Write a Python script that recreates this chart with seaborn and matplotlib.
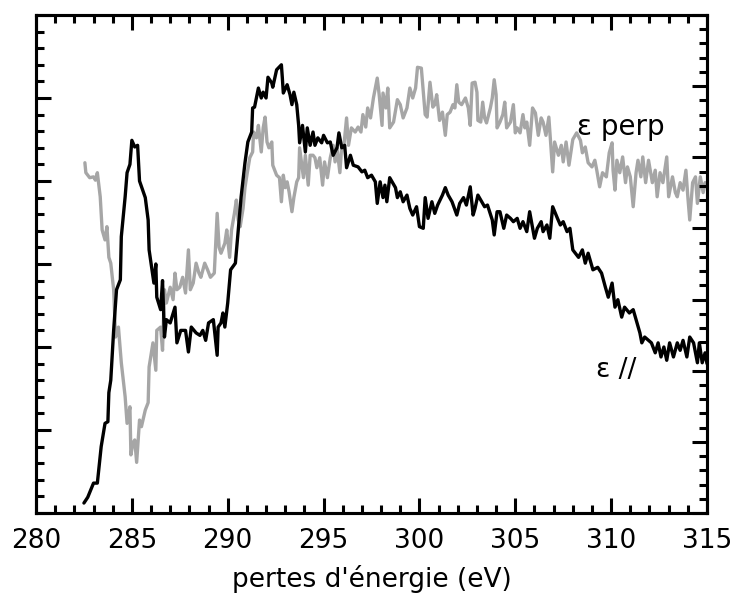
import numpy as np
import pandas as pd
import seaborn as sns
import matplotlib
matplotlib.use("Agg")
import matplotlib.pyplot as plt
from matplotlib.ticker import MultipleLocator, NullFormatter

# Energy loss spectra (arbitrary intensity units)
x_par = [282.5, 282.7, 283.0, 283.2, 283.4, 283.6, 283.75, 283.8, 283.9, 284.05,
         284.2, 284.4, 284.45, 284.65, 284.75, 284.9, 285.0, 285.15, 285.3, 285.4,
         285.7, 285.85, 285.9, 286.05, 286.15, 286.25, 286.3, 286.5, 286.6, 286.7,
         286.8, 287.0, 287.25, 287.35, 287.55, 287.8, 287.95, 288.1, 288.35, 288.55,
         288.7, 288.85, 289.0, 289.25, 289.35, 289.45, 289.5, 289.65, 289.75, 289.85,
         290.0, 290.15, 290.4, 290.55, 290.7, 290.9, 291.05, 291.25, 291.3, 291.4,
         291.6, 291.75, 291.85, 292.0, 292.1, 292.3, 292.35, 292.55, 292.8, 292.85,
         292.9, 293.1, 293.25, 293.35, 293.45, 293.6, 293.7, 293.75, 293.9, 294.05,
         294.15, 294.3, 294.45, 294.55, 294.7, 294.9, 295.0, 295.2, 295.35, 295.5,
         295.7, 295.8, 295.95, 296.1, 296.2, 296.4, 296.55, 296.8, 297.0, 297.15,
         297.3, 297.5, 297.7, 297.8, 297.95, 298.1, 298.2, 298.3, 298.45, 298.75,
         298.85, 299.0, 299.15, 299.35, 299.5, 299.65, 299.85, 300.0, 300.2, 300.3,
         300.45, 300.65, 300.8, 300.95, 301.2, 301.35, 301.5, 301.7, 301.95, 302.1,
         302.3, 302.45, 302.65, 302.8, 302.9, 303.05, 303.25, 303.4, 303.55, 303.8,
         303.9, 304.05, 304.2, 304.4, 304.55, 304.75, 304.9, 305.1, 305.25, 305.4,
         305.6, 305.75, 306.0, 306.15, 306.35, 306.45, 306.65, 306.8, 306.95, 307.2,
         307.35, 307.5, 307.7, 307.85, 308.0, 308.3, 308.5, 308.65, 308.8, 309.05,
         309.3, 309.5, 309.7, 309.85, 310.05, 310.2, 310.35, 310.55, 310.7, 310.95,
         311.15, 311.35, 311.5, 311.6, 311.75, 311.95, 312.1, 312.3, 312.45, 312.6,
         312.75, 312.9, 313.05, 313.25, 313.45, 313.6, 313.75, 313.95, 314.1, 314.3,
         314.5, 314.6, 314.75, 314.9, 315.0]
y_par = [0.12, 0.19, 0.36, 0.36, 0.80, 1.08, 1.10, 1.45, 1.60, 2.20,
         2.69, 2.81, 3.33, 3.81, 4.10, 4.20, 4.49, 4.41, 4.43, 4.00,
         3.80, 3.53, 3.17, 2.93, 2.77, 3.00, 2.60, 2.45, 2.80, 2.12,
         2.33, 2.29, 2.48, 2.05, 2.20, 2.20, 1.94, 2.24, 2.17, 2.14,
         2.20, 2.08, 2.29, 2.33, 2.12, 1.90, 2.24, 2.29, 2.41, 2.24,
         2.53, 2.93, 3.01, 3.41, 3.81, 4.22, 4.47, 4.59, 4.88, 4.89,
         5.12, 5.00, 5.07, 5.00, 5.25, 5.18, 5.13, 5.34, 5.40, 5.24,
         5.06, 5.16, 5.04, 4.92, 5.07, 4.92, 4.67, 4.46, 4.67, 4.35,
         4.64, 4.43, 4.59, 4.43, 4.52, 4.46, 4.55, 4.46, 4.47, 4.31,
         4.40, 4.58, 4.40, 4.43, 4.16, 4.31, 4.19, 4.17, 4.11, 4.13,
         4.04, 4.07, 3.99, 3.73, 3.99, 3.80, 3.95, 3.75, 4.04, 3.92,
         3.80, 3.87, 3.75, 3.83, 3.67, 3.59, 3.69, 3.45, 3.43, 3.80,
         3.55, 3.75, 3.61, 3.71, 3.83, 3.92, 3.83, 3.75, 3.59, 3.73,
         3.80, 3.71, 3.93, 3.59, 3.67, 3.83, 3.75, 3.69, 3.71, 3.53,
         3.35, 3.63, 3.63, 3.43, 3.59, 3.55, 3.51, 3.55, 3.43, 3.51,
         3.39, 3.63, 3.31, 3.43, 3.51, 3.39, 3.47, 3.31, 3.69, 3.55,
         3.47, 3.51, 3.39, 3.43, 3.17, 3.08, 3.17, 3.01, 3.13, 2.93,
         2.96, 2.89, 2.72, 2.60, 2.77, 2.48, 2.57, 2.36, 2.48, 2.41,
         2.45, 2.29, 2.17, 2.05, 2.12, 2.08, 2.05, 1.93, 2.05, 1.88,
         2.00, 1.84, 2.05, 1.88, 2.05, 1.96, 2.08, 1.88, 2.12, 2.05,
         1.81, 2.05, 1.81, 1.93, 1.80]

x_perp = [282.55, 282.6, 282.8, 283.0, 283.1, 283.2, 283.35, 283.45, 283.6, 283.7,
          283.8, 283.9, 284.05, 284.15, 284.3, 284.45, 284.65, 284.75, 284.9, 284.95,
          285.05, 285.15, 285.25, 285.4, 285.5, 285.7, 285.85, 285.9, 286.1, 286.25,
          286.3, 286.5, 286.6, 286.7, 286.8, 287.0, 287.15, 287.25, 287.35, 287.5,
          287.65, 287.8, 287.95, 288.05, 288.2, 288.35, 288.5, 288.6, 288.8, 288.95,
          289.1, 289.3, 289.45, 289.55, 289.65, 289.85, 289.95, 290.1, 290.2, 290.35,
          290.45, 290.55, 290.65, 290.8, 290.9, 291.0, 291.15, 291.3, 291.35, 291.5,
          291.6, 291.75, 291.85, 291.95, 292.05, 292.15, 292.3, 292.35, 292.55, 292.7,
          292.8, 292.9, 293.0, 293.1, 293.2, 293.35, 293.45, 293.6, 293.7, 293.75,
          293.95, 294.05, 294.2, 294.3, 294.45, 294.55, 294.65, 294.8, 294.95, 295.05,
          295.2, 295.35, 295.5, 295.6, 295.7, 295.85, 295.95, 296.05, 296.2, 296.3,
          296.45, 296.65, 296.8, 296.95, 297.05, 297.2, 297.3, 297.45, 297.6, 297.8,
          297.9, 298.05, 298.1, 298.25, 298.35, 298.45, 298.65, 298.85, 299.0, 299.15,
          299.35, 299.5, 299.65, 299.8, 299.9, 300.1, 300.3, 300.4, 300.55, 300.7,
          300.8, 300.9, 301.05, 301.2, 301.35, 301.45, 301.6, 301.75, 301.85, 301.95,
          302.05, 302.2, 302.4, 302.55, 302.65, 302.75, 302.9, 303.0, 303.05, 303.2,
          303.3, 303.4, 303.5, 303.7, 303.8, 303.9, 304.0, 304.05, 304.2, 304.35,
          304.45, 304.55, 304.75, 304.9, 305.0, 305.1, 305.25, 305.4, 305.5, 305.6,
          305.75, 305.9, 306.05, 306.2, 306.35, 306.45, 306.6, 306.75, 306.95, 307.05,
          307.25, 307.4, 307.5, 307.65, 307.8, 308.0, 308.2, 308.4, 308.5, 308.65,
          308.8, 309.0, 309.15, 309.25, 309.4, 309.55, 309.75, 309.9, 310.05, 310.1,
          310.2, 310.3, 310.45, 310.6, 310.75, 310.85, 311.0, 311.15, 311.3, 311.4,
          311.55, 311.65, 311.8, 311.95, 312.15, 312.3, 312.4, 312.55, 312.7, 312.9,
          313.0, 313.2, 313.35, 313.45, 313.6, 313.75, 313.9, 314.0, 314.1, 314.25,
          314.4, 314.5, 314.65, 314.8, 314.9, 315.0]
y_perp = [4.22, 4.10, 4.04, 4.05, 4.01, 4.10, 3.81, 3.41, 3.29, 3.45,
          3.08, 3.01, 2.69, 2.12, 2.24, 1.81, 1.40, 1.08, 1.28, 0.70,
          0.84, 0.88, 0.61, 1.12, 1.04, 1.24, 1.33, 1.76, 2.05, 1.72,
          2.20, 2.24, 1.96, 2.69, 2.53, 2.72, 2.57, 2.89, 2.69, 2.72,
          2.84, 2.65, 3.17, 2.69, 2.77, 3.01, 2.89, 2.84, 3.01, 2.93,
          2.84, 2.89, 3.61, 3.20, 3.13, 3.25, 3.41, 3.08, 3.41, 3.61,
          3.77, 3.53, 3.45, 3.67, 3.92, 4.07, 4.28, 4.35, 4.59, 4.52,
          4.67, 4.35, 4.64, 4.77, 4.47, 4.40, 4.47, 4.19, 4.07, 4.04,
          3.75, 4.07, 3.92, 3.99, 3.87, 3.63, 3.80, 3.99, 4.04, 4.40,
          4.04, 4.31, 3.95, 4.31, 4.31, 4.28, 4.16, 4.28, 3.95, 4.23,
          4.04, 4.28, 4.43, 4.23, 4.40, 4.10, 4.43, 4.40, 4.76, 4.43,
          4.64, 4.59, 4.65, 4.59, 4.80, 4.65, 4.88, 4.76, 5.00, 5.24,
          5.04, 4.67, 5.06, 4.88, 5.12, 4.64, 4.71, 4.98, 4.92, 4.76,
          4.88, 5.12, 5.00, 5.12, 5.37, 5.36, 4.80, 4.77, 5.19, 4.89,
          4.92, 5.04, 4.73, 4.83, 4.55, 4.80, 4.83, 4.92, 4.88, 5.16,
          4.95, 4.92, 5.00, 4.88, 4.67, 5.18, 5.19, 5.07, 4.73, 4.71,
          4.95, 4.76, 4.70, 4.88, 5.00, 5.22, 5.04, 4.64, 4.71, 4.80,
          4.95, 4.64, 4.71, 4.92, 4.58, 4.64, 4.58, 4.80, 4.64, 4.71,
          4.43, 4.88, 4.82, 4.55, 4.76, 4.71, 4.55, 4.77, 4.11, 4.47,
          4.31, 4.43, 4.23, 4.47, 4.19, 4.50, 4.58, 4.49, 4.34, 4.41,
          4.22, 4.17, 4.25, 4.13, 3.93, 4.10, 4.05, 4.34, 4.46, 4.13,
          3.89, 4.25, 4.10, 4.29, 3.98, 4.17, 4.05, 3.69, 4.10, 4.25,
          4.05, 4.29, 3.98, 4.25, 3.98, 4.13, 3.81, 4.10, 3.98, 4.29,
          3.81, 4.05, 3.86, 3.81, 3.98, 3.89, 4.13, 3.81, 3.53, 3.98,
          4.05, 3.73, 4.05, 3.86, 3.98, 3.95]

sns.set_style("ticks")
plt.rcParams['font.family'] = ['DejaVu Sans']
plt.rcParams['text.color'] = 'black'
plt.rcParams['axes.labelcolor'] = 'black'
plt.rcParams['axes.edgecolor'] = 'black'
plt.rcParams['xtick.color'] = 'black'
plt.rcParams['ytick.color'] = 'black'

par = pd.DataFrame({'energie': x_par, 'intensite': y_par})
perp = pd.DataFrame({'energie': x_perp, 'intensite': y_perp})

fig = plt.figure(figsize=(7.38, 5.94), dpi=100)
ax = fig.add_axes([36 / 738, 1 - 513 / 594, 671 / 738, 498 / 594])

sns.lineplot(data=perp, x='energie', y='intensite', color='#a6a6a6', lw=2.4,
             estimator=None, sort=False, ax=ax)
sns.lineplot(data=par, x='energie', y='intensite', color='black', lw=2.4,
             estimator=None, sort=False, ax=ax)

ax.set_xlim(280, 315)
ax.set_ylim(0, 6)
ax.xaxis.set_major_locator(MultipleLocator(5))
ax.xaxis.set_minor_locator(MultipleLocator(1))
ax.yaxis.set_major_locator(MultipleLocator(1))
ax.yaxis.set_minor_locator(MultipleLocator(0.2))
ax.yaxis.set_major_formatter(NullFormatter())
ax.tick_params(which='both', direction='in', top=True, right=False, width=2.2)
ax.tick_params(which='major', length=11, labelsize=19, pad=11)
ax.tick_params(which='minor', length=6)
ax.set_ylabel('')
ax.set_xlabel("pertes d'énergie (eV)", fontsize=19, labelpad=8)

# right side has its own tick spacing
ax2 = ax.twinx()
ax2.set_ylim(0, 7)
ax2.yaxis.set_major_locator(MultipleLocator(1))
ax2.yaxis.set_minor_locator(MultipleLocator(0.2))
ax2.yaxis.set_major_formatter(NullFormatter())
ax2.tick_params(which='both', direction='in', width=2.2)
ax2.tick_params(which='major', length=11)
ax2.tick_params(which='minor', length=6)

for a in (ax, ax2):
    for s in a.spines.values():
        s.set_linewidth(2.2)

ax.text(308.2, 4.65, 'ε perp', fontsize=20, va='center', ha='left')
ax.text(309.2, 1.72, 'ε //', fontsize=19, va='center', ha='left')

fig.savefig('out.png', dpi=100)
